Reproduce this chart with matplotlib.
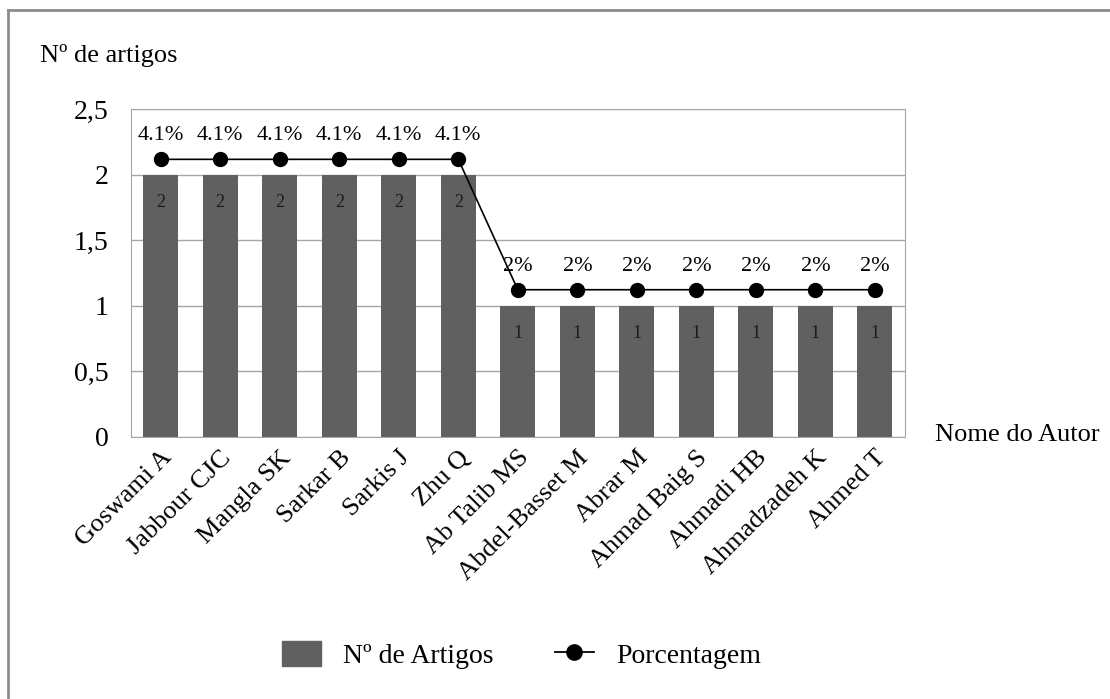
import matplotlib.pyplot as plt
from matplotlib.lines import Line2D
from matplotlib.patches import Patch

plt.rcParams['font.family'] = ['Liberation Serif', 'DejaVu Serif']

# Data
autores = ['Goswami A', 'Jabbour CJC', 'Mangla SK', 'Sarkar B', 'Sarkis J', 'Zhu Q',
           'Ab Talib MS', 'Abdel-Basset M', 'Abrar M', 'Ahmad Baig S', 'Ahmadi HB',
           'Ahmadzadeh K', 'Ahmed T']
artigos = [2, 2, 2, 2, 2, 2, 1, 1, 1, 1, 1, 1, 1]
porcentagem = [4.1, 4.1, 4.1, 4.1, 4.1, 4.1, 2, 2, 2, 2, 2, 2, 2]
rotulos_pct = ['4.1%', '4.1%', '4.1%', '4.1%', '4.1%', '4.1%',
               '2%', '2%', '2%', '2%', '2%', '2%', '2%']
y_ticks = [0, 0.5, 1, 1.5, 2, 2.5]
y_labels = ['0', '0,5', '1', '1,5', '2', '2,5']

fig = plt.figure(figsize=(11.1, 6.99), dpi=100)
ax = fig.add_axes([0.118, 0.375, 0.697, 0.469])

x = list(range(len(autores)))
ax.bar(x, artigos, width=0.59, color='#606060', zorder=2)
for xi, v in zip(x, artigos):
    ax.annotate(str(v), (xi, v), xytext=(0, -20), textcoords='offset points',
                ha='center', va='center', fontsize=13, color='#1a1a1a')

ax.set_xlim(-0.5, len(autores) - 0.5)
ax.set_ylim(0, 2.5)
ax.set_yticks(y_ticks)
ax.set_yticklabels(y_labels, fontsize=20)
ax.set_xticks(x)
ax.set_xticklabels(autores, rotation=45, ha='right', rotation_mode='anchor', fontsize=19)
ax.tick_params(length=0)
ax.tick_params(axis='y', pad=16)
ax.tick_params(axis='x', pad=7)
ax.grid(axis='y', color='#a6a6a6', linewidth=1, zorder=0)
for s in ax.spines.values():
    s.set_color('#a6a6a6')

# percentage line on hidden secondary axis
ax2 = ax.twinx()
ax2.plot(x, porcentagem, color='black', marker='o', markersize=10, linewidth=1.2, zorder=3)
for xi, v, lab in zip(x, porcentagem, rotulos_pct):
    ax2.annotate(lab, (xi, v), xytext=(0, 17), textcoords='offset points',
                 ha='center', va='center', fontsize=16)
ax2.set_ylim(-0.37, 4.91)
ax2.set_yticks([])
for s in ax2.spines.values():
    s.set_visible(False)

fig.text(0.036, 0.921, 'Nº de artigos', fontsize=19, va='center')
fig.text(0.842, 0.378, 'Nome do Autor', fontsize=19, va='center')

handles = [Patch(facecolor='#606060', edgecolor='#606060'),
           Line2D([0], [0], color='black', marker='o', markersize=11, linewidth=1.3)]
fig.legend(handles, ['Nº de Artigos', 'Porcentagem'], loc='center',
           bbox_to_anchor=(0.47, 0.063), ncol=2, frameon=False, fontsize=20,
           handlelength=1.4, handleheight=1.0, handletextpad=0.8, columnspacing=2.2)

# outer frame (top and left only)
fig.add_artist(Line2D([0.007, 1], [0.986, 0.986], color='#8c8c8c', linewidth=2,
                      transform=fig.transFigure))
fig.add_artist(Line2D([0.007, 0.007], [0, 0.986], color='#8c8c8c', linewidth=2,
                      transform=fig.transFigure))

fig.savefig('out.png', dpi=100)
